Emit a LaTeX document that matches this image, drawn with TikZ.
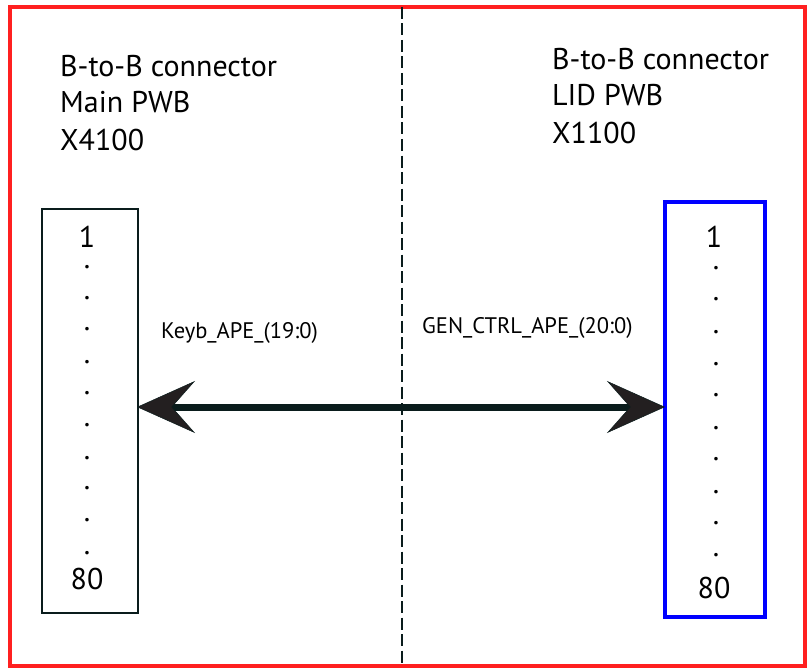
\documentclass[tikz,border=0pt]{standalone}
\usepackage{fontspec}
\setmainfont{PT Sans}
\usetikzlibrary{arrows.meta}
\definecolor{frame}{HTML}{FF2020}
\definecolor{ink}{HTML}{0A1C1C}
\definecolor{tipfill}{HTML}{231F20}
\definecolor{lidblue}{HTML}{0000FF}
\tikzset{
  title/.style={anchor=base west,inner sep=0pt,font=\fontsize{30}{36}\selectfont},
  sig/.style={anchor=base west,inner sep=0pt,font=\fontsize{22.5}{26}\selectfont},
  pin/.style={anchor=base,inner sep=0pt,font=\fontsize{30}{36}\selectfont},
  pindot/.style={anchor=base,inner sep=0pt,font=\fontsize{30}{36}\selectfont},
  conbox/.style={draw,rectangle,inner sep=0pt},
  bus/.style={line width=7pt,draw=ink,
    {Stealth[length=58pt,width=52pt,inset=23pt,fill=tipfill,line width=0.5pt]}-{Stealth[length=58pt,width=52pt,inset=23pt,fill=tipfill,line width=0.5pt]}}
}
\begin{document}
\begin{tikzpicture}[x=1pt,y=-1pt]
\useasboundingbox (0,0) rectangle (807,669);
% outer frame
\draw[frame,line width=4pt] (10,7) rectangle (805,666);
% divider
\coordinate (dtop) at (402,7);
\coordinate (dbot) at (402,666);
\draw[ink,line width=2pt,dash pattern=on 12pt off 4.5pt] (dtop) -- (dbot);
% headings
\node[title] (l1) at (60,77) {B-to-B connector};
\node[title] (l2) at (60,113) {Main PWB};
\node[title] (l3) at (60,150) {X4100};
\node[title] (r1) at (552,70) {B-to-B connector};
\node[title] (r2) at (552,106) {LID PWB};
\node[title] (r3) at (552,143) {X1100};
% boxes
\node[conbox,draw=ink,line width=2pt,minimum width=96pt,minimum height=404pt] (lbox) at (90,411) {};
\node[conbox,draw=lidblue,line width=4pt,minimum width=100pt,minimum height=415pt] (rbox) at (715,409.5) {};
% pin numbers
\node[pin] (lp1) at (87,247) {1};
\node[pin] (lp80) at (87,589) {80};
\node[pin] (rp1) at (714,247) {1};
\node[pin] (rp80) at (714,598) {80};
\foreach \y [count=\i] in {266,297,328,361,392,424,457,487,519,552}
  \node[pindot] (ld\i) at (87,\y+2) {.};
\foreach \y [count=\i] in {267,298,331,363,394,427,458,491,522,554}
  \node[pindot] (rd\i) at (716,\y+2) {.};
% signal labels
\node[sig] (kb) at (161,338) {Keyb\_APE\_(19:0)};
\node[sig] (gc) at (422,333) {GEN\_CTRL\_APE\_(20:0)};
% bus arrow
\coordinate (mid) at (402,407);
\draw[bus,shorten <=-2pt,shorten >=-2pt] (lbox.east |- mid) -- (rbox.west |- mid);
\end{tikzpicture}
\end{document}
